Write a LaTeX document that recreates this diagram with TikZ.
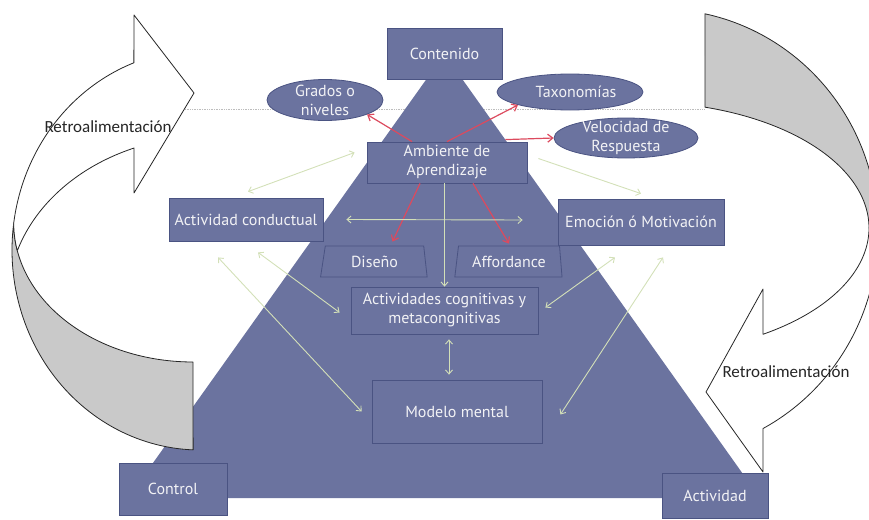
\documentclass[tikz,border=0pt]{standalone}
\usepackage{fontspec}
\setmainfont{PT Sans}
\newfontfamily\ribbonfont{Carlito}
\usetikzlibrary{arrows.meta,shapes.geometric}

\definecolor{slate}{HTML}{6B739F}
\definecolor{slateline}{HTML}{4A5382}
\definecolor{boxtext}{HTML}{F2F2F5}
\definecolor{linkgreen}{HTML}{D3E0B8}
\definecolor{linkred}{HTML}{DC4A5E}
\definecolor{ribbon}{HTML}{C9C9C9}
\definecolor{guide}{HTML}{BDBDBD}

\tikzset{
  gtip/.tip={Straight Barb[length=4pt,width=7pt]},
  rtip/.tip={Straight Barb[length=5pt,width=8pt]}
}

\begin{document}
\begin{tikzpicture}[x=1pt,y=-1pt,
  box/.style={draw=slateline, line width=0.8pt, fill=slate, text=boxtext,
    inner sep=0pt, align=center, font=\fontsize{16}{19}\selectfont},
  oval/.style={box, ellipse},
  trap/.style={box, trapezium, trapezium stretches=true},
  ovaltext/.style={text=boxtext, align=center, inner sep=0pt,
    font=\fontsize{16}{19}\selectfont},
  retro/.style={text=black!85, inner sep=0pt, font=\ribbonfont\fontsize{17}{20}\selectfont},
  outline/.style={draw=black!85, line width=0.8pt, line join=round},
  greenone/.style={draw=linkgreen, line width=0.9pt, -gtip},
  greenboth/.style={draw=linkgreen, line width=0.9pt, gtip-gtip},
  redlink/.style={draw=linkred, line width=1.2pt, -rtip}
]
\useasboundingbox (0,0) rectangle (869,519);
\clip (0,0) rectangle (869,519);

% dotted guide line behind everything
\coordinate (guideL) at (185,109);
\coordinate (guideR) at (705,109);
\draw[guide, densely dotted, line width=0.7pt] (guideL) -- (guideR);

% the pyramid
\fill[slate] (128,498) -- (760,498) -- (444.4,54) -- cycle;

% left feedback ribbon: grey back face, then white front face with the head
\filldraw[fill=ribbon, outline]
  plot[domain=187.8:92.1, samples=60] ({200+188*cos(\x)},{250+200*sin(\x)})
  -- (193,362)
  -- plot[domain=90:180, samples=60] ({193+179.3*cos(\x)},{223+139*sin(\x)})
  -- cycle;
\filldraw[fill=white, outline]
  plot[domain=249.4:187.8, samples=60] ({200+188*cos(\x)},{250+200*sin(\x)})
  -- plot[domain=180:168.8, samples=10] ({193+179.3*cos(\x)},{223+139*sin(\x)})
  -- plot[domain=197.8:247.9, samples=60] ({210+202*cos(\x)},{300+164*sin(\x)})
  -- (134,193) -- (194,93) -- (134,15) -- cycle;

% right feedback ribbon: grey back face on top, white front face with the head
\filldraw[fill=ribbon, outline]
  plot[domain=-78.1:0, samples=60] ({660+218*cos(\x)},{232+223*sin(\x)})
  -- (869,228)
  -- plot[domain=0:-73.5, samples=60] ({640+229*cos(\x)},{228+126*sin(\x)})
  -- cycle;
\filldraw[fill=white, outline]
  plot[domain=0:61.8, samples=60] ({660+218*cos(\x)},{232+223*sin(\x)})
  -- (763,472) -- (706,392) -- (763,289)
  -- plot[domain=57.5:0, samples=60] ({640+229*cos(\x)},{228+126*sin(\x)})
  -- cycle;

% boxes
\node[box, minimum width=115pt, minimum height=51pt] (cont) at (444.5,53.5) {Contenido};
\node[box, minimum width=160pt, minimum height=41pt] (amb) at (447,162.5) {Ambiente de\\Aprendizaje};
\node[box, minimum width=154pt, minimum height=43pt] (act) at (246,219.5) {Actividad conductual};
\node[box, minimum width=166pt, minimum height=46pt] (emo) at (641,222) {Emoción ó Motivación};
\node[trap, trapezium left angle=79, trapezium right angle=82,
      minimum width=107pt, minimum height=31pt] (dis) at (374.5,261.5) {Diseño};
\node[trap, trapezium left angle=77, trapezium right angle=81,
      minimum width=108pt, minimum height=31pt] (aff) at (509,261.5) {Affordance};
\node[box, minimum width=187pt, minimum height=47pt] (cog) at (444.5,310.5) {Actividades cognitivas y\\metacongnitivas};
\node[box, minimum width=170pt, minimum height=63pt] (mod) at (457,411.5) {Modelo mental};
\node[box, minimum width=108pt, minimum height=52pt] (ctl) at (173,489) {Control};
\node[box, minimum width=106pt, minimum height=45pt] (actv) at (715,495.5) {Actividad};

% ovals
\node[oval, minimum width=116pt, minimum height=41pt] (grad) at (325,100) {};
\node[ovaltext] (gradT) at (grad) {Grados o\\niveles};
\node[oval, minimum width=146pt, minimum height=36pt] (tax) at (570,92) {};
\node[ovaltext] (taxT) at ([xshift=6pt]tax.center) {Taxonomías};
\node[oval, minimum width=144pt, minimum height=40pt] (vel) at (626,138) {};
\node[ovaltext] (velT) at (vel) {Velocidad de\\Respuesta};

% red links out of the learning environment
\draw[redlink] ([xshift=-35pt]amb.north) -- (grad.-19);
\draw[redlink] (amb.north) -- (tax.-166);
\draw[redlink] ([xshift=-22pt,yshift=2pt]amb.north east) -- (vel.west);
\draw[redlink] ([xshift=-27pt]amb.south) -- ([xshift=18pt,yshift=4pt]dis.north);
\draw[redlink] ([xshift=26pt]amb.south) -- ([yshift=2pt]aff.north);

% green links
\draw[greenboth] ([xshift=2pt,yshift=6pt]act.north) -- ([xshift=-12pt,yshift=10pt]amb.west);
\draw[greenone] ([xshift=11pt,yshift=4pt]amb.east) -- ([yshift=5pt]emo.north);
\draw[greenboth] ([xshift=23pt]act.east) -- ([xshift=-35pt,yshift=2pt]emo.west);
\draw[greenone] (amb.south -| cog.north) -- (cog.north);
\draw[greenboth] ([xshift=-28pt,yshift=-16pt]act.south) -- ([xshift=-10pt]mod.west);
\draw[greenboth] ([xshift=12pt,yshift=-11pt]act.south) -- ([xshift=-11pt,yshift=-2pt]cog.west);
\draw[greenboth] ([xshift=7pt,yshift=3pt]cog.east) -- ([xshift=-26pt,yshift=-12pt]emo.south);
\draw[greenboth] ([xshift=18pt,yshift=-3pt]mod.east) -- ([xshift=22pt,yshift=-12pt]emo.south);
\draw[greenboth] ([xshift=4.5pt,yshift=-5pt]cog.south) -- ([xshift=-8pt,yshift=5pt]mod.north);

% ribbon captions
\node[retro] (fbL) at (108,127) {Retroalimentación};
\node[retro] (fbR) at (786,372) {Retroalimentación};
\end{tikzpicture}
\end{document}
